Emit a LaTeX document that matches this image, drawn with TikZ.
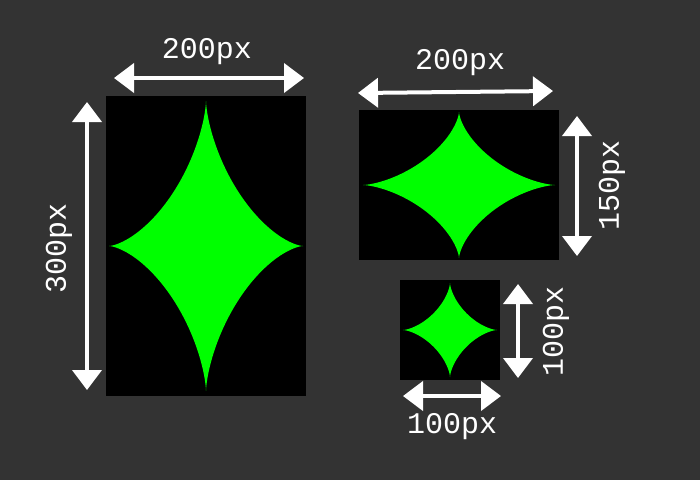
\documentclass[tikz,border=0pt]{standalone}
\usepackage{fontspec}
\setmonofont{Liberation Mono}
\usepackage{tikz}
\usetikzlibrary{arrows.meta}
\definecolor{canvas}{RGB}{51,51,51}
\definecolor{stargreen}{RGB}{0,255,0}

\tikzset{
  frame/.style={fill=black,draw=none,inner sep=0pt,outer sep=0pt},
  dimarrow/.style={{Triangle[length=20pt,width=29pt]}-{Triangle[length=20pt,width=29pt]},line width=4pt,color=white},
  dimlabel/.style={text=white,inner sep=0pt,font=\ttfamily\fontsize{30}{36}\selectfont}
}
% astroid filling the box: #1 = centre, #2 = half width, #3 = half height
\newcommand{\astroid}[3]{%
  \fill[stargreen,shift={#1}] plot[domain=0:360,samples=240,smooth]
    ({#2*cos(\x)*cos(\x)*cos(\x)},{#3*sin(\x)*sin(\x)*sin(\x)}) -- cycle;}

\begin{document}
\begin{tikzpicture}[x=1pt,y=-1pt]
  \fill[canvas] (0,0) rectangle (700,480);

  % tall box
  \node[frame,minimum width=200pt,minimum height=300pt] (tall) at (206,246) {};
  \astroid{(tall.center)}{97}{145}
  \coordinate (tallTopL) at (114,78);
  \coordinate (tallTopR) at (304,78);
  \coordinate (tallSideT) at (87,102);
  \coordinate (tallSideB) at (87,390);
  \draw[dimarrow] (tallTopL) -- (tallTopR);
  \draw[dimarrow] (tallSideT) -- (tallSideB);
  \node[dimlabel] (tallW) at (207,52) {200px};
  \node[dimlabel,rotate=90] (tallH) at (59,248) {300px};

  % wide box
  \node[frame,minimum width=200pt,minimum height=150pt] (wide) at (459,185) {};
  \astroid{(wide.center)}{96}{73}
  \coordinate (wideTopL) at (358,93);
  \coordinate (wideTopR) at (553,91);
  \coordinate (wideSideT) at (577,116);
  \coordinate (wideSideB) at (577,256);
  \draw[dimarrow] (wideTopL) -- (wideTopR);
  \draw[dimarrow] (wideSideT) -- (wideSideB);
  \node[dimlabel] (wideW) at (460,63) {200px};
  \node[dimlabel,rotate=90] (wideH) at (612,185) {150px};

  % square box
  \node[frame,minimum width=100pt,minimum height=100pt] (square) at (450,330) {};
  \astroid{(square.center)}{47}{47}
  \coordinate (squareSideT) at (518,284);
  \coordinate (squareSideB) at (518,378);
  \coordinate (squareBotL) at (403,396);
  \coordinate (squareBotR) at (501,396);
  \draw[dimarrow] (squareSideT) -- (squareSideB);
  \draw[dimarrow] (squareBotL) -- (squareBotR);
  \node[dimlabel,rotate=90] (squareH) at (556,331) {100px};
  \node[dimlabel] (squareW) at (452,427) {100px};
\end{tikzpicture}
\end{document}
